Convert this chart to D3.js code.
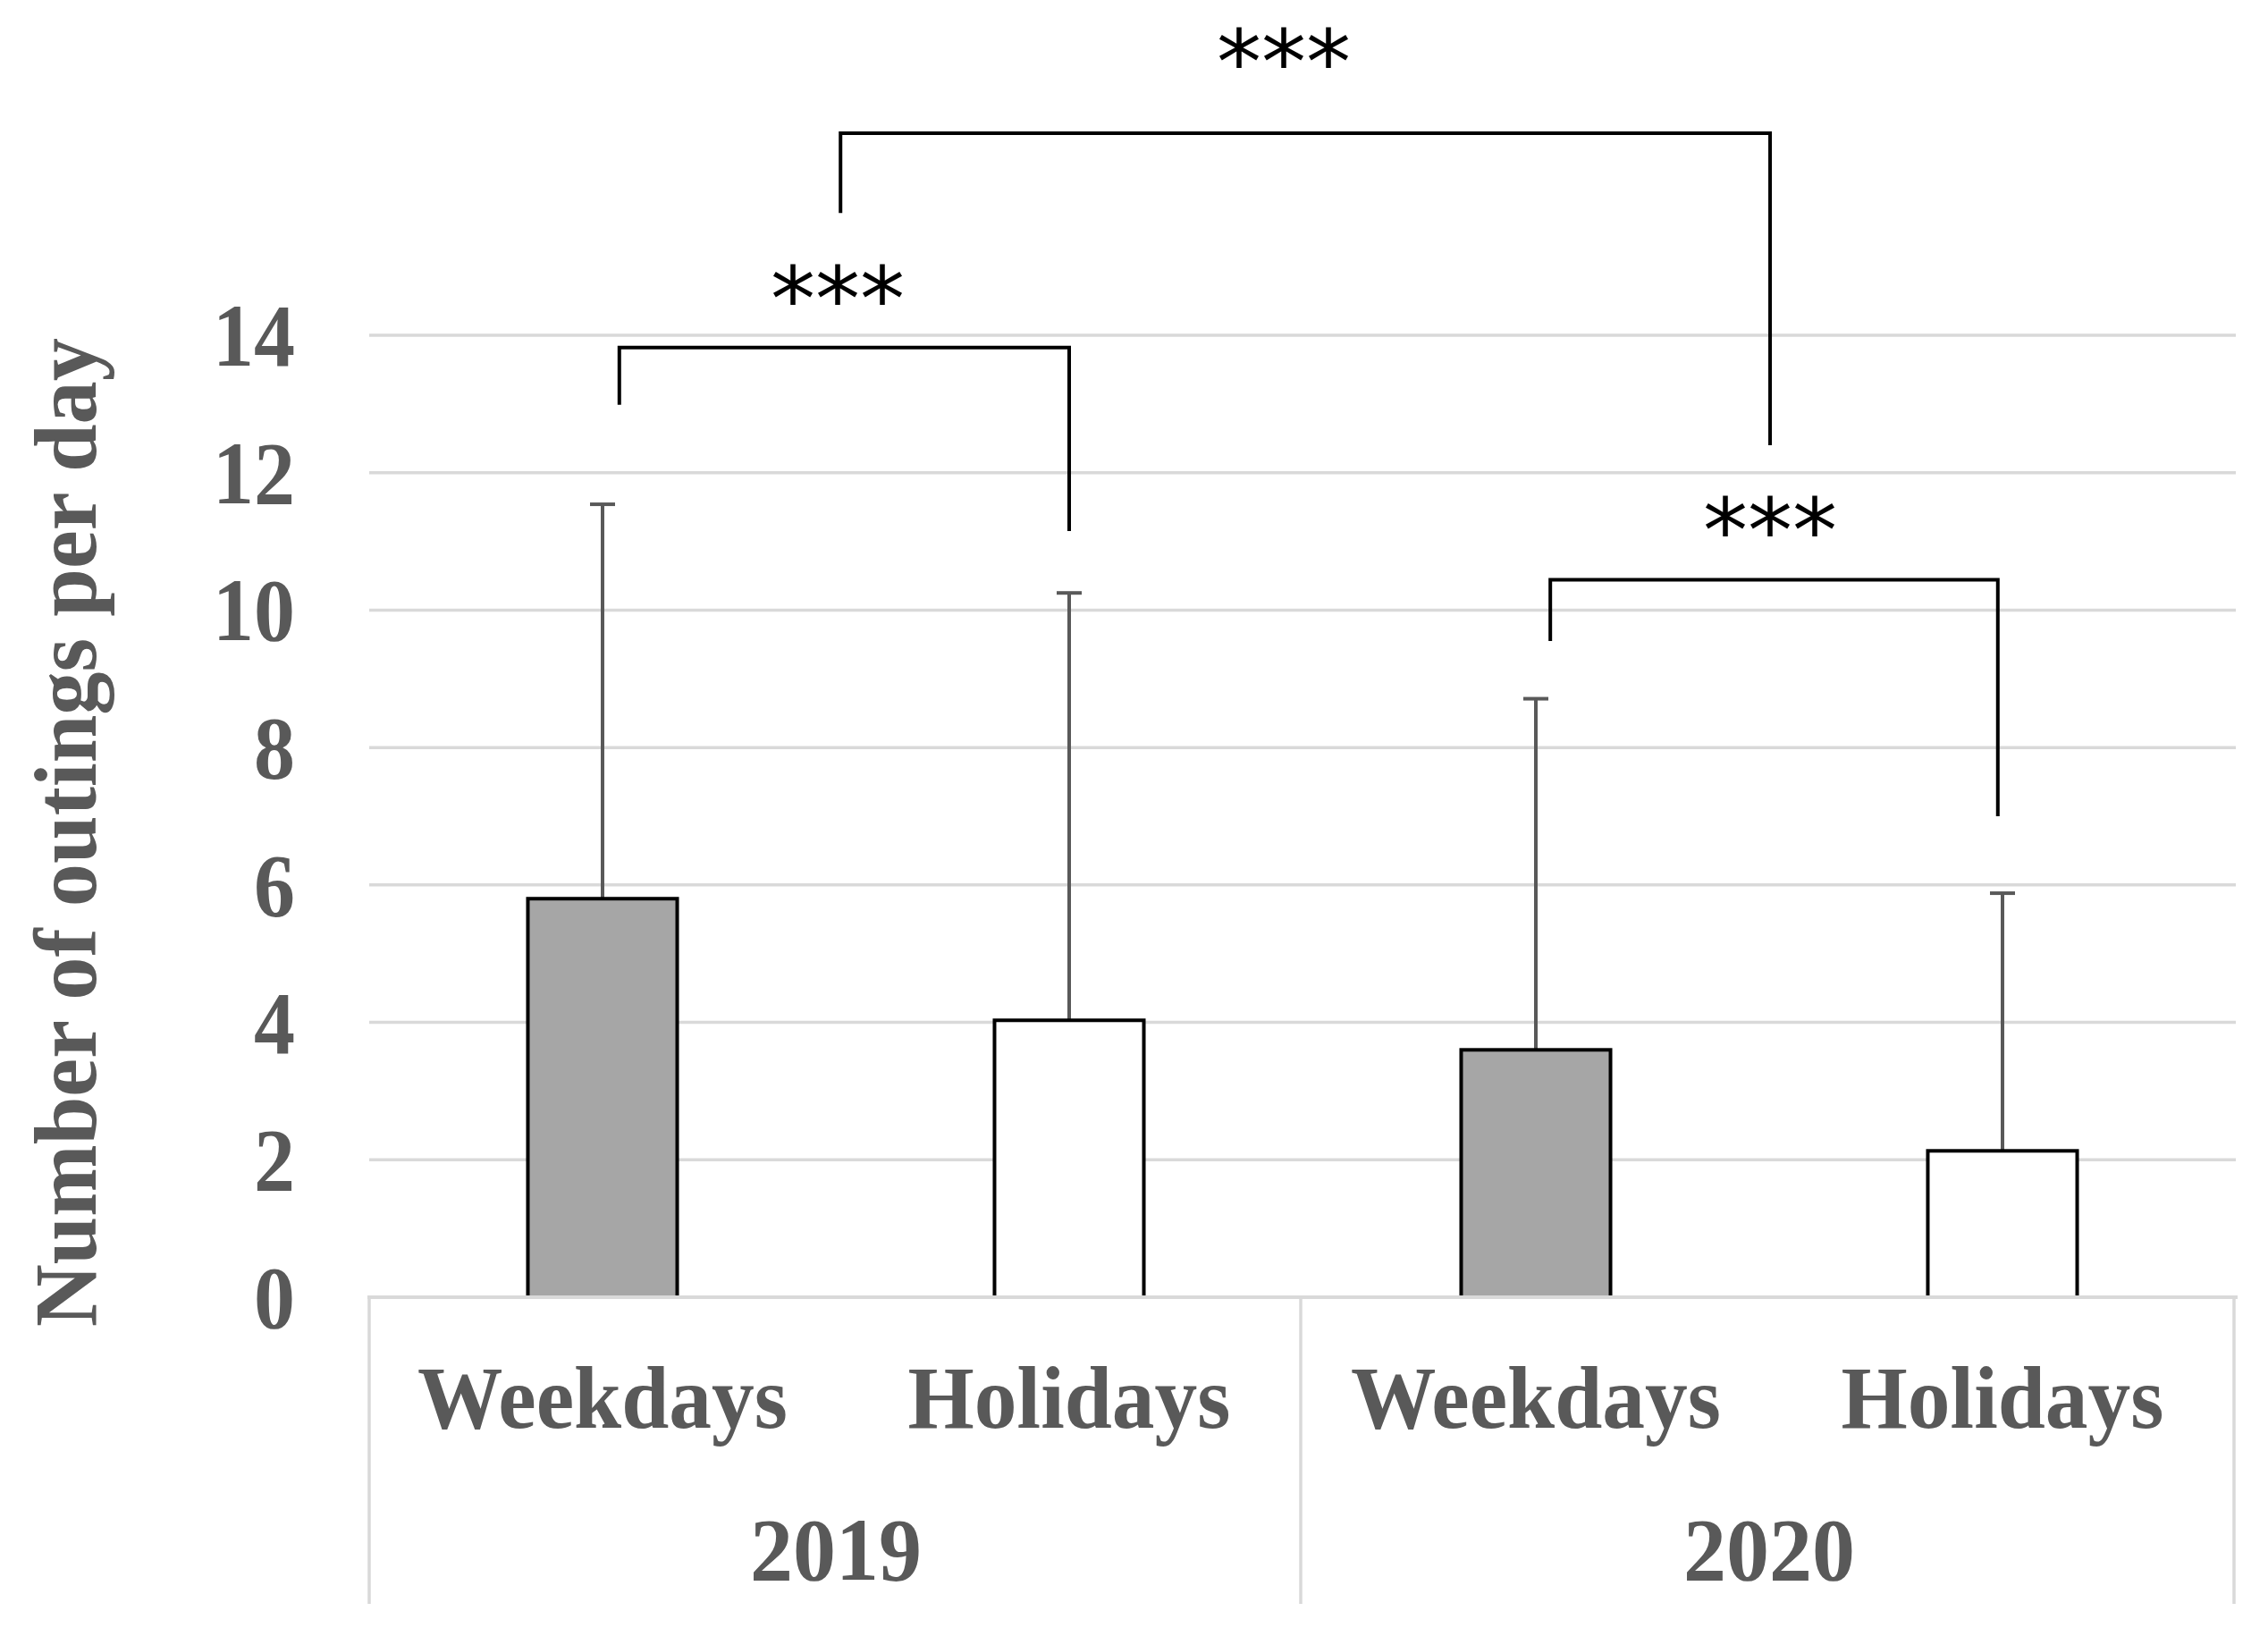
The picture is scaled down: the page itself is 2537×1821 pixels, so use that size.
<!DOCTYPE html>
<html>
<head>
<meta charset="utf-8">
<script src="https://cdn.jsdelivr.net/npm/d3@7"></script>
<style>
  html, body { margin: 0; padding: 0; background: #fff; }
  svg { display: block; }
</style>
</head>
<body>
<svg id="chart" width="2537" height="1821"></svg>
<script>
// ---- data ----
const categories = ["Weekdays", "Holidays", "Weekdays", "Holidays"];
const years = ["2019", "2020"];
const means = [5.8, 4.03, 3.6, 2.13];
const sds = [5.74, 6.22, 5.11, 3.75];
const isWeekday = [true, false, true, false];
const yTicks = [0, 2, 4, 6, 8, 10, 12, 14];
const yTitle = "Number of outings per day";
// significance brackets: category positions (index units) and values
const bracketFrom = [0.036, 2.031, 0.51];
const bracketTo = [1.0, 2.99, 2.502];
const bracketTop = [13.82, 10.44, 16.94];
const bracketLeftEnd = [12.99, 9.55, 15.78];
const bracketRightEnd = [11.15, 7.0, 12.4];
const starLabels = ["***", "***", "***"];
const starX = [0.504, 2.502, 1.46];
const starY = [14.85, 11.48, 18.3];

(function () {
// ---- layout ----
const svg = d3.select("#chart");
const plotLeft = 413, plotRight = 2501, plotBottom = 1451, plotTop = 375;
const textColor = "#595959";
const font = "'Liberation Serif', 'Times New Roman', serif";

const y = d3.scaleLinear().domain([0, 14]).range([plotBottom, plotTop]);
const x = d3.scaleBand().domain(d3.range(categories.length)).range([plotLeft, plotRight]).padding(0);
const xi = d3.scaleLinear().domain([-0.5, categories.length - 0.5]).range([plotLeft, plotRight]);
const barW = x.bandwidth() * 0.32;

// gridlines
svg.append("g").selectAll("line").data(yTicks.filter(d => d > 0)).join("line")
  .attr("x1", plotLeft).attr("x2", plotRight)
  .attr("y1", d => y(d)).attr("y2", d => y(d))
  .attr("stroke", "#d9d9d9").attr("stroke-width", 3.5);

// y tick labels
svg.append("g").selectAll("text").data(yTicks).join("text")
  .attr("transform", d => `translate(330,${y(d)}) scale(0.92,1)`)
  .attr("dy", "0.34em")
  .attr("text-anchor", "end")
  .attr("font-family", font).attr("font-weight", "bold")
  .attr("font-size", 100).attr("fill", textColor)
  .text(d => d);

// y title
svg.append("text")
  .attr("transform", `translate(107,931) rotate(-90) scale(0.965,1)`)
  .attr("text-anchor", "middle")
  .attr("font-family", font).attr("font-weight", "bold")
  .attr("font-size", 100).attr("fill", textColor)
  .text(yTitle);

// error bars (upper only)
const eb = svg.append("g");
categories.forEach((c, i) => {
  const cx = x(i) + x.bandwidth() / 2;
  eb.append("line").attr("x1", cx).attr("x2", cx)
    .attr("y1", y(means[i])).attr("y2", y(means[i] + sds[i]))
    .attr("stroke", "#595959").attr("stroke-width", 4);
  eb.append("line").attr("x1", cx - 14).attr("x2", cx + 14)
    .attr("y1", y(means[i] + sds[i])).attr("y2", y(means[i] + sds[i]))
    .attr("stroke", "#595959").attr("stroke-width", 4);
});

// bars
svg.append("g").selectAll("rect").data(means).join("rect")
  .attr("x", (d, i) => x(i) + (x.bandwidth() - barW) / 2)
  .attr("width", barW)
  .attr("y", d => y(d))
  .attr("height", d => y(0) - y(d))
  .attr("fill", (d, i) => isWeekday[i] ? "#a6a6a6" : "#ffffff")
  .attr("stroke", "#000").attr("stroke-width", 4);

// x axis line and category box separators
const ax = svg.append("g").attr("stroke", "#d9d9d9");
ax.append("line").attr("x1", plotLeft - 2).attr("x2", plotRight + 2).attr("y1", plotBottom).attr("y2", plotBottom).attr("stroke-width", 4);
const groupEdges = [plotLeft, (plotLeft + plotRight) / 2 - 2, plotRight - 2];
groupEdges.forEach(gx => {
  ax.append("line").attr("x1", gx).attr("x2", gx).attr("y1", plotBottom).attr("y2", 1794).attr("stroke-width", 3.5);
});

// category labels
svg.append("g").selectAll("text").data(categories).join("text")
  .attr("transform", (d, i) => `translate(${x(i) + x.bandwidth() / 2},1597) scale(0.955,1)`)
  .attr("text-anchor", "middle")
  .attr("font-family", font).attr("font-weight", "bold")
  .attr("font-size", 100).attr("fill", textColor)
  .text(d => d);

// year labels
svg.append("g").selectAll("text").data(years).join("text")
  .attr("transform", (d, i) => `translate(${xi(i * 2 + 0.5)},1767) scale(0.96,1)`)
  .attr("text-anchor", "middle")
  .attr("font-family", font).attr("font-weight", "bold")
  .attr("font-size", 100).attr("fill", textColor)
  .text(d => d);

// significance brackets
svg.append("g").selectAll("path").data(bracketTop).join("path")
  .attr("d", (d, i) => `M${xi(bracketFrom[i])},${y(bracketLeftEnd[i])}V${y(d)}H${xi(bracketTo[i])}V${y(bracketRightEnd[i])}`)
  .attr("fill", "none").attr("stroke", "#000").attr("stroke-width", 4);

svg.append("g").selectAll("text").data(starLabels).join("text")
  .attr("x", (d, i) => xi(starX[i]))
  .attr("y", (d, i) => y(starY[i]) + 60)
  .attr("text-anchor", "middle")
  .attr("font-family", "'DejaVu Sans', sans-serif")
  .attr("font-size", 100).attr("fill", "#000")
  .text(d => d);
})();
</script>
</body>
</html>
